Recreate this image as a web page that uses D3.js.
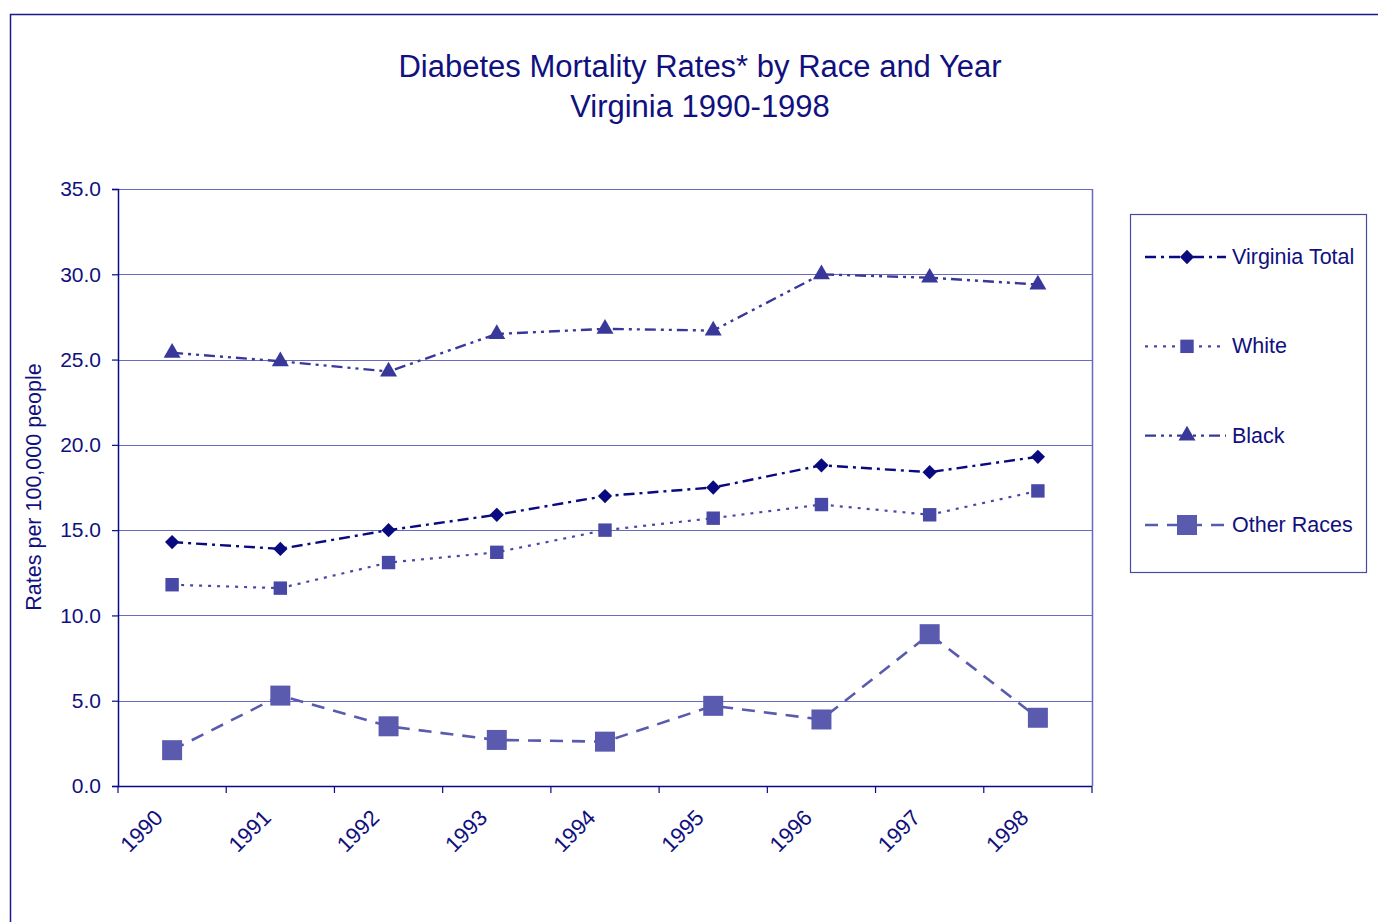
<!DOCTYPE html>
<html>
<head>
<meta charset="utf-8">
<script src="https://cdn.jsdelivr.net/npm/d3@7"></script>
<style>
  body { margin: 0; background: #fff; }
  text { font-family: "Liberation Sans", Arial, sans-serif; fill: #10107e; }
</style>
</head>
<body>
<div id="chart"></div>
<script>
// values
var years = ["1990", "1991", "1992", "1993", "1994", "1995", "1996", "1997", "1998"];
var virginiaTotal = [14.3, 13.9, 15.0, 15.9, 17.0, 17.5, 18.8, 18.4, 19.3];
var white = [11.8, 11.6, 13.1, 13.7, 15.0, 15.7, 16.5, 15.9, 17.3];
var black = [25.4, 24.9, 24.3, 26.5, 26.8, 26.7, 30.0, 29.8, 29.4];
var otherRaces = [2.1, 5.3, 3.5, 2.7, 2.6, 4.7, 3.9, 8.9, 4.0];
var yTicks = [0, 5, 10, 15, 20, 25, 30, 35];

var series = [
  {name: "Virginia Total", values: virginiaTotal, color: "#0a0a80", dash: "11,5,3,5", width: 2.4, sym: d3.symbolDiamond2, size: 130},
  {name: "White", values: white, color: "#4848a6", dash: "3,6", width: 2.2, sym: d3.symbolSquare, size: 180},
  {name: "Black", values: black, color: "#38389a", dash: "11,5,3,5,3,5", width: 2.4, sym: d3.symbolTriangle, size: 125},
  {name: "Other Races", values: otherRaces, color: "#5a5aae", dash: "13,9", width: 2.6, sym: d3.symbolSquare, size: 400}
];

var W = 1378, H = 922;
var svg = d3.select("#chart").append("svg")
  .attr("width", W)
  .attr("height", H);

// outer frame
svg.append("rect")
  .attr("x", 10.5).attr("y", 14.5)
  .attr("width", W + 20).attr("height", H + 20)
  .attr("fill", "none")
  .attr("stroke", "#1a1a8c")
  .attr("stroke-width", 1.5);

var plotL = 118, plotR = 1092, plotT = 189, plotB = 786;

var x = d3.scaleBand().domain(years).range([plotL, plotR]);
var y = d3.scaleLinear().domain([0, 35]).range([plotB, plotT]);

// title
svg.append("text").attr("x", 700).attr("y", 77)
  .attr("text-anchor", "middle").attr("font-size", 31)
  .text("Diabetes Mortality Rates* by Race and Year");
svg.append("text").attr("x", 700).attr("y", 117)
  .attr("text-anchor", "middle").attr("font-size", 31)
  .text("Virginia 1990-1998");

// gridlines
svg.append("g").selectAll("line")
  .data(yTicks.filter(function(d) { return d > 0; }))
  .join("line")
  .attr("x1", plotL).attr("x2", plotR)
  .attr("y1", function(d) { return Math.round(y(d)) + 0.5; })
  .attr("y2", function(d) { return Math.round(y(d)) + 0.5; })
  .attr("stroke", "#6a6abc").attr("stroke-width", 1.2);

// right border of plot
svg.append("line")
  .attr("x1", plotR + 0.5).attr("x2", plotR + 0.5)
  .attr("y1", plotT).attr("y2", plotB)
  .attr("stroke", "#6a6abc").attr("stroke-width", 1.5);

// y axis
var yAxis = svg.append("g")
  .attr("transform", "translate(" + plotL + ",0)")
  .call(d3.axisLeft(y).tickValues(yTicks).tickSize(6).tickPadding(11)
    .tickFormat(d3.format(".1f")));
yAxis.select(".domain").attr("stroke", "#0a0a86").attr("stroke-width", 1.5);
yAxis.selectAll(".tick line").attr("stroke", "#0a0a86").attr("stroke-width", 1.2);
yAxis.selectAll(".tick text").attr("font-size", 21).attr("fill", "#10107e")
  .attr("font-family", "Liberation Sans, Arial, sans-serif");

// x axis (ticks at category edges)
var xAxisG = svg.append("g");
xAxisG.append("line")
  .attr("x1", plotL).attr("x2", plotR)
  .attr("y1", plotB + 0.5).attr("y2", plotB + 0.5)
  .attr("stroke", "#0a0a86").attr("stroke-width", 1.5);
xAxisG.selectAll("line.tk")
  .data(years.concat(["end"]))
  .join("line").attr("class", "tk")
  .attr("x1", function(d, i) { return plotL + i * x.bandwidth(); })
  .attr("x2", function(d, i) { return plotL + i * x.bandwidth(); })
  .attr("y1", plotB).attr("y2", plotB + 7)
  .attr("stroke", "#0a0a86").attr("stroke-width", 1.2);
xAxisG.selectAll("text")
  .data(years)
  .join("text")
  .attr("font-size", 22)
  .attr("text-anchor", "end")
  .attr("transform", function(d) {
    return "translate(" + (x(d) + x.bandwidth() / 2 - 8) + "," + (plotB + 33) + ") rotate(-45)";
  })
  .text(function(d) { return d; });

// y axis title
svg.append("text")
  .attr("transform", "translate(41,487) rotate(-90)")
  .attr("text-anchor", "middle").attr("font-size", 21.5)
  .text("Rates per 100,000 people");

// lines
var line = d3.line()
  .x(function(d, i) { return x(years[i]) + x.bandwidth() / 2; })
  .y(function(d) { return y(d); });

series.forEach(function(s) {
  svg.append("path")
    .datum(s.values)
    .attr("d", line)
    .attr("fill", "none")
    .attr("stroke", s.color)
    .attr("stroke-width", s.width)
    .attr("stroke-dasharray", s.dash);
  svg.append("g").selectAll("path")
    .data(s.values)
    .join("path")
    .attr("d", d3.symbol().type(s.sym).size(s.size))
    .attr("transform", function(d, i) {
      return "translate(" + (x(years[i]) + x.bandwidth() / 2) + "," + y(d) + ")";
    })
    .attr("fill", s.color);
});

// legend
var lg = svg.append("g");
lg.append("rect")
  .attr("x", 1130.5).attr("y", 214.5)
  .attr("width", 236).attr("height", 358)
  .attr("fill", "#fff").attr("stroke", "#4a4aa6").attr("stroke-width", 1.2);

var legendY = d3.scalePoint().domain(series.map(function(s) { return s.name; }))
  .range([257, 525]);

series.forEach(function(s) {
  var ly = legendY(s.name);
  lg.append("line")
    .attr("x1", 1145).attr("x2", 1226)
    .attr("y1", ly).attr("y2", ly)
    .attr("stroke", s.color).attr("stroke-width", s.width)
    .attr("stroke-dasharray", s.dash);
  lg.append("path")
    .attr("d", d3.symbol().type(s.sym).size(s.size))
    .attr("transform", "translate(1187," + ly + ")")
    .attr("fill", s.color);
  lg.append("text")
    .attr("x", 1232).attr("y", ly + 7)
    .attr("font-size", 21.5)
    .text(s.name);
});
</script>
</body>
</html>
